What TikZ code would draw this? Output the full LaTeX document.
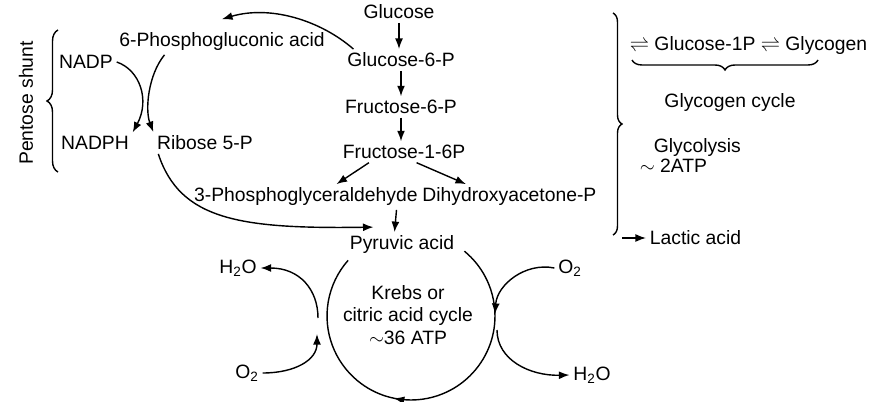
\documentclass[tikz,border=0pt]{standalone}
\usepackage{fontspec}
\setmainfont{Liberation Sans}
\usetikzlibrary{arrows.meta,decorations.pathreplacing,decorations.markings}

\begin{document}
\begin{tikzpicture}[
  x=0.02cm, y=0.02cm,
  txt/.style={inner sep=2pt},
  arrow/.style={-{Latex[length=6pt,width=4.5pt]}, line width=0.8pt},
  curly/.style={decorate, decoration={brace, amplitude=#1}, line width=0.8pt},
  cyclearrow/.style={line width=0.8pt, decoration={markings, mark=at position 0.56 with {\arrow{Latex[length=6pt,width=4.5pt]}}}, postaction={decorate}},
  font=\fontsize{11}{13}\selectfont
]
\useasboundingbox (0,0) rectangle (879,-402);

% glycolysis
\node[txt] (glc) at (399,-12) {Glucose};
\node[txt] (g6p) at (401,-60) {Glucose-6-P};
\node[txt] (f6p) at (401,-107) {Fructose-6-P};
\node[txt] (f16p) at (404,-152) {Fructose-1-6P};
\node[txt, anchor=east] (pga) at (421.5,-197) {3-Phosphoglyceraldehyde};
\node[txt, anchor=west] (dha) at (418.5,-197) {Dihydroxyacetone-P};
\node[txt] (pyr) at (402,-245) {Pyruvic acid};

% pentose shunt
\node[txt] (pga6) at (222,-42) {6-Phosphogluconic acid};
\node[txt] (nadp) at (86,-62) {NADP};
\node[txt] (nadph) at (95,-143) {NADPH};
\node[txt] (rib) at (205,-143) {Ribose 5-P};
\node[txt, rotate=90] (shunt) at (26,-103) {Pentose shunt};
\draw[curly=0.22cm] (58,-172) -- (58,-30);

% glycogen cycle
\node[txt, anchor=west] (g1p) at (626,-46) {$\rightleftharpoons$ Glucose-1P $\rightleftharpoons$ Glycogen};
\draw[curly=0.2cm] (818,-60) -- (632,-60);
\node[txt] (gcyc) at (730,-103) {Glycogen cycle};
\node[txt, anchor=west] (glys) at (650,-148) {Glycolysis};
\node[txt, anchor=west] (atp) at (636,-166) {$\sim$ 2ATP};
\node[txt, anchor=west] (lac) at (646,-238) {Lactic acid};
\draw[curly=0.18cm] (613,-13) -- (613,-235);
\coordinate (bend) at (622,-238);
\draw[arrow] (bend) -- (lac.west);

% krebs cycle
\coordinate (cyc) at (411,-316);
\node[txt, align=center] (krebs) at (408,-315) {Krebs or\\citric acid cycle\\$\sim$36 ATP};
\draw[cyclearrow] ([shift={(50.5:1.68cm)}]cyc) arc[start angle=50.5, end angle=-221.5, radius=1.68cm];
\node[txt] (h2oa) at (238,-268) {H\textsubscript{2}O};
\node[txt] (o2a) at (247,-373) {O\textsubscript{2}};
\node[txt] (o2b) at (570,-268) {O\textsubscript{2}};
\node[txt] (h2ob) at (592,-375) {H\textsubscript{2}O};
\coordinate (inA) at (317,-334);
\coordinate (outA) at (318,-318);
\coordinate (inB) at (495,-314);
\coordinate (outB) at (497,-330);

\draw[arrow] (glc.south) -- (glc.south |- g6p.north);
\draw[arrow] (g6p.south) -- (g6p.south |- f6p.north);
\draw[arrow] (f6p.south) -- (f6p.south |- f16p.north);
\draw[arrow] ([xshift=0.6cm]f16p.south west) -- ([xshift=-1.7cm]pga.north east);
\draw[arrow] ([xshift=-1.05cm]f16p.south east) -- ([xshift=0.95cm]dha.north west);
\draw[arrow] ([xshift=-0.5cm]pga.south east) -- ([xshift=-0.15cm]pyr.north);
\draw[arrow] ([xshift=0.2cm]g6p.north west) .. controls (320,-20) and (270,-5) .. ([yshift=0.2cm]pga6.north);
\draw[arrow] (nadp.east) .. controls (140,-70) and (150,-100) .. (nadph.north east);
\draw[arrow] ([xshift=0.98cm]pga6.south west) .. controls (148,-75) and (145,-110) .. (rib.north west);
\draw[arrow] ([xshift=0.1cm]rib.south west) .. controls (180,-220) and (240,-229) .. ([xshift=0.55cm,yshift=0.1cm]pyr.north west);
\draw[arrow] (o2a.east) .. controls (295,-373) and (317,-360) .. (inA);
\draw[arrow] (outA) .. controls (318,-290) and (300,-268) .. (h2oa.east);
\draw[arrow] (o2b.west) .. controls (525,-262) and (497,-285) .. (inB);
\draw[arrow] (outB) .. controls (497,-360) and (530,-376) .. (h2ob.west);
\end{tikzpicture}
\end{document}
